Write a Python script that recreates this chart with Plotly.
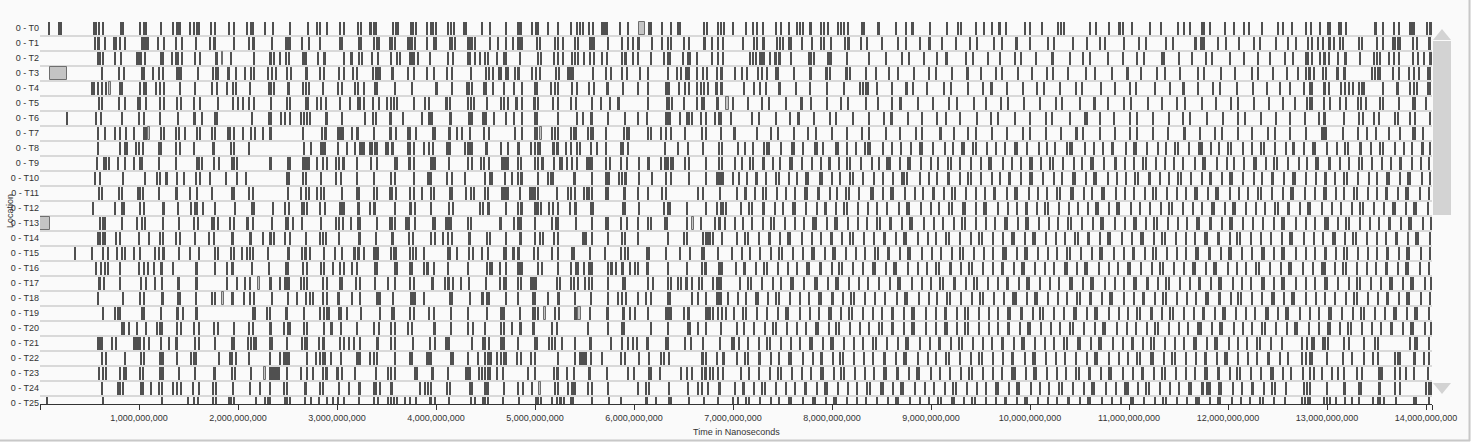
import plotly.graph_objects as go

# ---------------- data (times in milliseconds; tuples = (start, duration)) ----------------
row_labels = [f"0 - T{i}" for i in range(26)]
x_tick_values = [0, 1e9, 2e9, 3e9, 4e9, 5e9, 6e9, 7e9, 8e9, 9e9, 10e9, 11e9, 12e9, 13e9, 14e9, 14.06e9]
x_tick_labels = ["", "1,000,000,000", "2,000,000,000", "3,000,000,000", "4,000,000,000",
                 "5,000,000,000", "6,000,000,000", "7,000,000,000", "8,000,000,000",
                 "9,000,000,000", "10,000,000,000", "11,000,000,000", "12,000,000,000",
                 "13,000,000,000", "14,000,000,000", ""]
THIN_MS = 12

t0 = [88, 189, 205, 538, 563, 589, 629, 811, 835, 1010, (1043, 33), 1219, 1336, 1381, 1397, 1414, 1515, 1555, 1583, 1603, 1724, 1764, (1899, 20), 1952, 2081, 2128, 2148, 2265, 2350, (2518, 15), 2700, 2788, 2828, 2889, 3023, 3070, 3205, 3242, (3330, 20), (3366, 40), 3562, 3586, 3606, 3740, 3764, 3788, 3899, 3949, 3966, 3990, 4118, 4151, 4178, (4275, 40), 4464, 4538, 4700, 4818, 4841, 4858, 4962, (5003, 40), 5121, 5232, 5363, 5414, 5447, 5481, 5542, 5585, 5676, 5693, (5710, 30), 5855, 5932, 6148, 6164, 6275, 6370, 6437, 6461, 6706, 6730, 6848, 6871, 6908, 6997, 7128, 7198, 7239, 7295, 7424, 7484, 7558, 7643, 7669, 7699, (7770, 30), 7885, 7911, 7956, 8053, 8090, 8113, (8148, 25), 8299, 8322, (8464, 20),
      8646, 8737, (8807, 20), 8989, 9161, 9272, 9302, 9454, 9534, 9615, (9676, 30), 9757, 9949, 9999, 10120, 10282, 10312, 10342, 10605, 10666, 10797, (10888, 30), 10938, 11029, 11211, 11322, 11494, 11554, 11615, (11726, 40), 11817, 11969, 12059, 12160, 12211, 12342, 12504, 12554, 12645, 12784, 12834, 12921, 13006, 13022, (13113, 33), 13188, (13473, 33), 13557, 13668, 13719, 13830, 13854, 13874, 14006, (14039, 20)]
t1 = [552, (579, 25), 653, (740, 33), 798, 855, 1023, 1043, 1064, 1088, 1185, 1245, (1367, 15), 1427, 1569, (1717, 15), (1744, 30), (1946, 25), 2108, (2148, 20), (2340, 15), 2482, 2502, 2525, 2643, (2710, 15), (2828, 15), (3023, 15), (3050, 15), 3219, 3239, 3373, 3394, 3417, 3535, 3555, 3578, 3714, 3737, 3757, (3780, 15), (3899, 15), (3972, 35), 4141, 4161, 4184, 4320, 4343, 4363, 4386, 4538, 4616, 4700, 4777, 4818, 4845, 4868, 5013, 5043, 5194, (5222, 20), 5279, 5400, 5424, (5548, 60), 5737, 5878, 5932, 5989, (6040, 20), 6174, 6275, (6336, 15), (6370, 15), 6504, 6555, (6696, 35), 6780, (6841, 15), (6891, 15), 7097, 7204, 7232, (7289, 30), 7441, 7474, 7497, (7558, 40), 7693, 7794, 7885, 7911, 7986, 8123, (8158, 20), 8289, (8343, 25),
      8504, 8666, 8747, 8888, (8979, 20), 9110, 9242, 9393, 9464, 9635, 9716, (9848, 30), 9999, 10181, 10241, 10433, 10575, 10706, 10757, 10948, 11100, 11171, 11373, 11443, (11655, 30), (11716, 50), 11898, 11979, 12110, 12261, 12322, 12484, 12605, 12686, 12800, 12844, 12901, 12955, 13012, 13029, 13062, 13130, 13157, 13315, 13349, (13494, 25), 13561, 13662, 13686, 13709, 13729, 13864, 13905, (14022, 25)]
t2 = [579, 599, 629, 750, 811, 973, 997, (1020, 15), 1057, 1219, 1235, 1326, 1364, 1387, 1427, 1562, (1609, 15), (1768, 25), 1926, 2154, 2313, 2333, 2356, (2424, 15), 2482, 2508, (2649, 50), (2805, 15), (2861, 25), 3063, (3141, 20), 3215, 3249, 3350, 3407, (3545, 15), 3596, 3629, (3730, 15), 3757, 3774, 3808, (3932, 20), 4118, 4168, (4313, 15), (4336, 15), 4386, 4444, 4494, 4522, 4606, (4676, 40), 4841, 5030, 5060, 5188, (5232, 15), 5279, (5373, 15), 5400, 5424, 5491, 5548, 5592, 5669, (5720, 15), 5878, (5905, 20), 5989, 6030, 6168, 6299, (6336, 35), 6494, 6545, 6562, 6629, 6780, 6841, (6891, 20), 7171, 7198, 7222, 7272, 7289, 7305, 7373, (7416, 25), (7464, 20), 7582, 7760, 7784, 7810, (7946, 55), 8148, 8366,
      8535, 8706, 8777, 8928, 9060, (9141, 30), 9353, 9423, 9575, 9696, 9848, 9908, 10060, (10221, 20), 10403, 10534, 10605, 10787, 10938, 11080, 11150, (11322, 40), 11504, 11635, 11777, 11837, 12019, 12160, 12302, 12423, 12575, 12655, 12784, 12800, 12844, 12921, 12961, 12979, 13012, 13103, (13173, 25), 13325, 13473, 13501, 13527, 13618, 13668, 13719, 13864, 13911, 13978, (14032, 25)]
t3 = [619, 791, (841, 15), 1023, 1043, 1141, (1199, 15), (1235, 15), 1377, 1397, 1421, 1589, 1740, 1768, 1791, (1886, 35), 1977, (2060, 25), 2128, 2161, (2296, 20), 2340, 2374, (2492, 15), (2532, 15), (2680, 30), (2821, 15), (2861, 15), (3013, 20), 3070, 3158, (3199, 15), 3360, 3387, 3407, 3434, (3545, 30), 3714, (3770, 20), 3906, 3976, 4101, (4151, 25), 4346, 4498, 4528, 4572, 4629, 4656, 4700, 4724, 4790, (4818, 30), (4962, 15), 5003, 5043, 5205, 5239, 5330, 5350, (5366, 30), 5582, 5710, 5760, 5878, 5922, 6057, 6134, 6343, 6427, (6467, 15), (6511, 50), 6629, 6696, 6730, (6831, 15), (6875, 20), 7016, 7087, 7138, 7245, 7289, 7340, (7424, 45), 7608, (7770, 30), 7929, 7946, 7972, 8131, 8148, 8174, 8333, 8434,
      8575, 8666, 8827, 8979, 9040, 9211, (9353, 30), 9504, 9646, 9716, 9878, 10019, 10171, 10231, 10383, 10565, 10656, 10827, (10969, 30), 11120, 11282, 11363, 11514, 11696, 11756, 11928, 12070, 12241, 12302, 12453, 12595, 12706, 12784, 12810, 12827, 12867, 12951, 12989, (13090, 35), (13157, 35), 13450, 13484, 13507, 13534, 13662, 13719, 13820, 13870, 13921, 14012, 14039]
t4 = [518, 545, 579, 619, 664, 805, (828, 15), 1000, 1043, 1064, 1169, 1202, 1245, 1414, (1562, 15), (1730, 15), 1785, 1879, 1942, (1973, 15), (2121, 15), 2306, 2333, 2363, (2502, 20), 2649, 2677, 2717, (2845, 25), 3007, 3047, 3174, 3205, 3265, (3376, 35), 3578, (3747, 25), (3993, 25), 4154, 4303, 4330, 4363, (4477, 35), 4572, 4683, 4784, 4861, 4992, 5010, 5154, 5194, (5222, 25), 5373, 5414, (5532, 25), 5592, (5720, 25), (5878, 25), 6033, (6134, 15), 6320, 6336, 6353, 6451, (6504, 25), (6545, 25), 6629, (6673, 15), 6706, 6740, (6821, 25), (6868, 30), 7103, 7204, 7265, 7323, (7451, 30), (7626, 20), 7777, 7946, 8120, 8282, 8309, 8333, 8356, 8451,
      8605, (8747, 20), 8817, 8959, 9130, 9201, 9373, 9524, (9595, 30), 9767, 9928, 10070, 10140, 10302, 10464, 10524, 10716, 10858, 11009, 11070, 11262, 11413, (11534, 30), 11696, 11847, 11918, 12090, 12251, 12393, 12524, 12625, 12766, (12820, 33), (12961, 25), 13012, 13140, 13181, 13214, 13258, 13315, 13349, 13372, 13561, (13693, 33), 13830, 13870, 13905, (14012, 33)]
t5 = [593, (619, 15), (791, 20), 855, (983, 33), 1064, (1202, 15), 1245, 1377, 1421, (1555, 15), 1606, 1791, 1949, 1990, (2047, 15), (2104, 20), 2161, (2323, 25), 2492, (2525, 15), 2684, 2700, 2795, (2828, 25), 2879, (3017, 25), 3131, 3205, (3232, 15), 3272, 3360, 3417, 3502, 3545, 3568, 3596, 3774, (3881, 20), (3916, 25), (4094, 25), (4134, 20), 4313, 4353, 4380, (4505, 15), 4656, 4683, 4727, (4801, 25), (4861, 20), (4979, 35), (5027, 15), 5178, 5232, 5363, 5407, 5568, 5659, (5744, 25), (5838, 20), 6134, (6326, 40), 6383, 6504, 6629, 6679, 6706, (6831, 25), 6999,
      7151, 7292, 7363, 7525, (7676, 30), 7787, 7949, 8090, 8161, 8343, 8464, 8605, (8686, 20), 8868, 9019, 9181, 9262, 9433, 9555, 9706, 9777, 9938, 10100, 10262, 10322, 10504, (10635, 30), 10787, 10948, 11019, 11191, 11332, 11484, 11565, 11736, 11878, 12029, 12100, 12261, 12413, 12554, 12676, 12794, 12820, 12844, 12961, 13022, 13130, 13191, 13305, 13339, 13386, 13534, 13557, 13723, 13864, 13888, 13999]
t6 = [(270, 15), (563, 15), 606, 828, (993, 15), 1050, (1202, 25), (1387, 20), (1548, 25), 1629, (1757, 40), 2134, 2306, 2333, 2431, 2474, (2525, 15), 2636, 2659, (2694, 15), (2727, 15), (2879, 30), (3047, 15), 3275, 3356, 3384, (3528, 30), 3663, 3858, (3916, 50), 4134, 4151, (4320, 50), (4461, 50), 4578, 4700, 4784, 4861, 4996, 5010, 5222, 5414, 5484, (5558, 25), 5727, (5905, 15), (6033, 15), 6124, 6320, 6343, 6363, 6461, 6528, 6555, 6578, 6673, 6720, 6814, 6855, 6875, (6976, 15),
      7191, 7262, 7424, 7575, (7646, 30), 7817, 7979, 8040, 8211, 8373, 8524, (8595, 20), 8767, 8908, 9060, 9141, 9292, 9464, 9605, 9676, 9848, 9999, 10161, 10221, 10403, (10544, 40), 10706, 10847, 11009, 11080, 11241, 11403, 11544, 11615, 11787, 11948, 12100, 12171, 12332, 12484, 12625, 12777, 12911, 12961, 12979, 13163, 13315, 13359, 13473, 13524, 13678, 13709, 13837, 13888, 14032]
t7 = [579, (649, 15), 750, 798, 862, 942, 1043, 1064, (1219, 15), 1245, 1367, (1401, 15), 1461, 1583, 1616, 1730, (1764, 15), 1892, 1919, 1952, 2043, 2128, 2168, 2245, (2313, 15), 2333, (2649, 20), (2845, 15), (2871, 25), 3007, 3023, 3040, (3057, 15), 3148, (3192, 25), 3366, (3528, 15), 3545, (3589, 15), 3707, 3737, 3791, 3966, 3982, (4128, 20), 4202, 4262, 4336, 4477, 4532, 4790, 4861, 4992, 5013, 5171, 5194, 5222, 5356, (5383, 40), 5535, 5558, 5582, (5710, 20), 5898, 5922, 5946, 6134, 6164, (6269, 15), 6320, (6370, 15), (6504, 25), (6679, 15), (6720, 15), 6875, (7009, 20),
      7232, 7383, 7454, 7615, 7757, (7828, 20), 7999, 8151, 8302, 8373, 8545, 8686, 8838, 8908, (9080, 30), 9231, 9373, 9444, 9615, 9767, 9928, 9999, 10161, 10312, (10464, 20), 10534, 10706, 10858, 11009, 11080, 11241, 11393, (11544, 30), 11716, 11868, 11938, 12100, 12241, 12403, 12474, 12625, 12787, 12945, 12968, 12989, 13157, 13305, 13400, 13494, 13618, 13729, 13864, 13888, 13965]
t8 = [579, 798, 855, 872, 963, 997, (1037, 15), (1192, 40), 1371, 1414, 1548, (1740, 25), (1926, 15), 1959, 2104, 2659, 2734, 2835, 2855, 2875, 3003, 3098, 3174, 3225, 3249, 3272, 3333, 3353, 3376, 3401, (3488, 20), 3512, (3555, 20), (3714, 15), 3737, (3770, 15), 3871, 3926, 3966, (4101, 55), 4285, 4313, 4336, 4363, (4498, 25), 4656, 4727, (4818, 30), 4952, (4996, 15), (5023, 35), (5178, 20), (5219, 20), 5306, 5363, 5414, 5447, (5558, 20), 5619, 5710, (5855, 30), (5888, 15), 5939, 6309, 6437, 6538, (6686, 25), 6858, 6881,
      7046, 7112, (7190, 25), 7310, 7335, 7360, 7480, 7590, 7615, 7702, (7820, 35), 7905, 8030, 8055, 8150, 8240, 8330, 8355, 8380, 8510, (8600, 20), 8690, 8790, 8880, 8905, 9010, 9140, 9220, (9300, 40), 9420, 9445, 9560, 9650, 9740, 9840, 9865, 9960, 10090, (10160, 25), 10250, 10370, 10395, 10420, 10550, 10640, 10730, (10820, 30), 10960, 11040, 11065, 11180, 11290, 11370, 11460, 11485, 11600, (11700, 45), 11820, 11900, 11990, 12020, 12150, 12240, 12330, 12355, 12470, 12580, (12650, 25), 12760, 12850, 12875, 12990, 13100, 13180, 13205, (13320, 30), 13440, 13530, 13555, 13680, 13770, 13850, (13950, 25), 14030]
t9 = [(573, 15), 639, 664, 687, (785, 15), (855, 15), 942, (1003, 15), 1027, 1192, (1367, 20), 1579, 1603, 1636, 1750, 1798, 1936, 1959, 1980, (2313, 30), (2498, 35), 2649, 2669, 2690, 2710, 2795, 2851, 2896, 2987, (3020, 15), (3047, 30), (3189, 25), 3343, 3394, 3578, 3603, (3714, 35), 3774, (3942, 55), 4128, 4320, 4363, 4454, (4481, 15), (4532, 15), 4666, 4683, 4700, 4724, (4818, 15), (4848, 25), 4992, (5030, 15), (5057, 30), 5188, 5245, 5272, (5313, 15), 5373, 5414, 5518, 5542, 5562, 5575, (5710, 15), 5754, 5865, 5922, 6050, (6134, 25), 6269, 6309, (6333, 20), 6366, 6386, 6511, 6555, 6720, 6858, 6881,
      7010, 7090, 7170, 7195, (7290, 30), 7400, 7470, 7570, 7595, 7690, 7790, 7880, (7960, 25), 8070, 8150, 8175, 8290, 8400, 8470, (8550, 45), 8680, 8760, 8785, 8890, 8990, 9070, 9170, 9195, (9280, 25), 9400, 9500, 9580, 9605, 9720, 9810, 9900, (9990, 35), 10110, 10200, 10225, 10330, 10440, 10520, 10610, 10635, 10740, (10850, 30), 10950, 11040, 11140, 11165, 11270, 11360, 11450, (11530, 25), 11660, 11740, 11765, 11880, 11980, 12060, 12160, (12250, 40), 12380, 12460, 12485, 12600, 12710, 12790, 12880, 12905, (13010, 30), 13130, 13220, 13320, 13345, 13450, 13550, 13640, (13730, 25), 13850, 13940, 14020]
t10 = [(552, 15), 599, (831, 20), 1053, 1179, 1209, (1259, 35), (1377, 15), 1454, 1573, 1613, (1710, 15), (1872, 20), 1987, 2074, 2492, 2508, 2649, 2684, 2835, 2980, 3040, 3199, 3366, 3545, 3578, 3770, (3906, 50), 4101, 4161, 4285, 4494, 4538, 4565, (4683, 25), 4767, 4818, (4851, 25), 5027, 5131, 5161, 5181, (5383, 30), 5568, (5710, 45), 5845, 5871, (5898, 35), 6047, 6174, 6320, 6370, 6552, (6720, 15), 6838, 6858, 6875, 6898, 6999,
       7060, 7140, (7230, 20), 7330, 7430, 7455, 7560, 7640, 7730, 7755, (7870, 35), 7990, 8080, 8180, 8205, 8310, 8420, (8500, 25), 8610, 8700, 8725, 8750, 8880, 8970, 9060, (9160, 30), 9290, 9370, 9395, 9500, 9610, 9690, (9780, 25), 9900, 9990, 10015, 10130, 10240, 10320, (10420, 40), 10560, 10640, 10665, 10780, 10870, 10960, 11060, 11085, (11190, 30), 11310, 11400, 11490, 11515, 11620, 11730, (11810, 25), 11930, 12010, 12035, 12150, 12260, 12340, (12430, 35), 12560, 12650, 12675, 12780, 12880, (12970, 25), 13080, 13170, 13195, 13310, 13420, 13500, (13600, 40), 13730, 13810, 13835, 13950, 14030]
t11 = [589, 619, 791, 828, (983, 15), 1007, 1033, 1192, (1367, 25), (1508, 15), (1573, 25), 1730, 1932, 1959, 2101, 2151, (2502, 15), 2636, (2684, 15), 2710, 2795, 2835, 2868, (3047, 15), (3189, 40), 3373, 3401, 3535, 3555, (3589, 15), 3737, (3774, 15), 3858, 3949, 3972, (4134, 35), 4296, 4353, 4376, 4494, (4515, 25), 4666, 4683, 4700, 4717, (4835, 25), 4942, 4962, (4986, 20), 5030, 5212, 5323, 5356, 5400, 5491, 5518, 5542, 5568, (5703, 40), (5888, 30), (6033, 15), 6134, (6275, 15), (6316, 20), 6639, 6689, 6865,
       7030, (7110, 30), 7220, 7300, 7325, 7440, 7530, 7620, 7720, 7745, (7850, 25), 7970, 8050, 8140, 8165, 8270, (8380, 40), 8510, 8590, 8615, 8730, 8830, 8910, (9010, 25), 9130, 9210, 9235, 9350, 9450, 9540, (9630, 30), 9760, 9840, 9865, 9980, 10080, 10170, 10270, 10295, (10400, 45), 10540, 10620, 10720, 10745, 10860, 10950, (11040, 25), 11160, 11240, 11265, 11380, 11480, 11570, (11660, 35), 11790, 11870, 11895, 12010, 12110, 12200, 12300, 12325, (12430, 25), 12550, 12630, 12655, 12770, 12870, (12960, 40), 13090, 13170, 13270, 13295, 13410, 13500, (13590, 25), 13710, 13790, 13815, 13930, 14020]
t12 = [528, 750, (825, 15), 848, 1003, (1047, 15), (1239, 20), (1387, 20), (1522, 15), (1555, 40), 1639, 1760, 1966, 2134, (2158, 15), 2346, (2467, 15), (2505, 20), 2643, 2666, 2687, 2828, (2868, 25), 3023, 3043, 3063, (3205, 25), 3326, (3366, 25), 3578, (3730, 25), 3780, 3942, (4128, 15), 4168, 4437, 4471, (4512, 30), 4700, 4818, (4851, 25), 4992, 5013, 5030, 5053, 5138, 5181, 5222, (5340, 25), (5390, 30), 5558, 5582, (5878, 40), 6047, 6299, (6336, 35), 6535, 6720, 6838, 6875, 6898, 6922,
       7080, 7160, 7185, (7290, 35), 7420, 7500, 7600, 7625, 7730, 7840, (7920, 25), 8040, 8120, 8145, 8260, 8360, 8450, (8540, 30), 8670, 8750, 8775, 8890, 8990, 9080, 9180, 9205, (9310, 40), 9450, 9530, 9555, 9670, 9770, 9860, (9950, 25), 10070, 10150, 10175, 10290, 10390, 10480, 10580, (10660, 35), 10790, 10870, 10895, 11010, 11110, (11200, 25), 11320, 11400, 11425, 11540, 11640, 11730, (11830, 40), 11960, 12040, 12065, 12180, 12280, 12370, 12470, 12495, (12600, 30), 12720, 12800, 12825, 12940, 13040, (13130, 25), 13250, 13330, 13355, 13470, 13570, (13660, 40), 13790, 13870, 13895, 14010]
t13 = [603, 629, (649, 15), (825, 15), 973, (1023, 15), 1057, (1239, 15), 1397, 1548, 1589, 1730, 1757, 1788, 1912, 1952, (2088, 20), 2148, 2340, (2475, 35), 2548, 2643, (2835, 15), 2980, 3013, 3057, 3141, 3205, 3232, (3394, 20), 3535, 3555, 3578, (3690, 45), 3780, 3966, 3982, 4094, 4118, 4134, 4151, 4313, 4353, 4639, 4656, (4784, 15), 4818, 4835, 4851, 4992, 5171, (5198, 40), (5407, 15), 5575, 5710, 5737, 5865, 5922, 6033, (6134, 15), 6168, 6309, 6330, 6528, 6673, 6814, (6848, 30), 6915,
       7010, 7100, (7180, 25), 7300, 7380, 7405, 7520, 7620, 7710, (7800, 45), 7940, 8020, 8045, 8160, 8260, 8350, 8450, 8475, (8580, 30), 8700, 8780, 8805, 8920, 9020, (9110, 25), 9230, 9310, 9335, 9450, 9550, 9640, (9740, 35), 9870, 9950, 9975, 10090, 10190, 10280, 10380, 10405, (10510, 25), 10630, 10710, 10735, 10850, 10950, (11040, 40), 11170, 11250, 11275, 11390, 11490, 11580, 11680, 11705, (11810, 30), 11930, 12010, 12035, 12150, 12250, (12340, 25), 12460, 12540, 12565, 12680, 12780, 12870, (12970, 45), 13110, 13190, 13215, 13330, 13430, 13520, (13620, 25), 13740, 13820, 13845, 13960, 14040]
t14 = [579, 603, 629, (653, 15), 758, (805, 15), (997, 15), 1094, (1209, 15), (1242, 15), 1367, 1414, 1562, 1704, 1757, (1932, 30), (2118, 20), 2245, 2313, 2333, 2356, 2474, 2525, (2677, 15), 2828, 2851, (2886, 15), 3013, 3215, 3232, 3384, (3545, 30), (3724, 15), 3764, 3942, 3982, 4067, (4118, 15), 4161, (4330, 20), 4512, 4538, 4700, (4841, 30), 4992, 5047, 5077, 5188, (5232, 15), (5474, 50), (5575, 15), (5727, 25), 5878, 5905, 6033, (6336, 15), 6504, 6528, 6696, 6720, 6740, 6764, 6797, (6888, 15),
       7040, 7120, 7145, 7260, (7350, 30), 7470, 7550, 7575, 7690, 7790, 7880, (7980, 25), 8100, 8180, 8205, 8320, 8420, (8510, 40), 8640, 8720, 8745, 8860, 8960, 9050, 9150, 9175, (9280, 25), 9400, 9480, 9505, 9620, 9720, (9810, 35), 9940, 10020, 10045, 10160, 10260, 10350, 10450, 10475, (10580, 25), 10700, 10780, 10805, 10920, 11020, (11110, 45), 11250, 11330, 11355, 11470, 11570, 11660, 11760, 11785, (11890, 30), 12010, 12090, 12115, 12230, 12330, (12420, 25), 12540, 12620, 12645, 12760, 12860, 12950, (13050, 40), 13180, 13260, 13285, 13400, 13500, 13590, (13690, 25), 13810, 13890, 13915, 14030]
t15 = [350, 518, 629, 684, (771, 20), 821, 851, 946, (1010, 15), 1154, (1195, 20), (1229, 30), 1397, 1515, 1599, 1764, 1788, 1926, (1952, 20), 2033, 2088, 2118, 2148, (2290, 25), (2492, 30), 2643, (2669, 25), (2720, 15), 2861, 2972, 3047, (3164, 25), (3205, 25), 3265, 3366, 3384, 3407, 3545, 3568, 3589, (3730, 15), (3764, 15), 3788, 3871, 4118, 4141, 4209, 4326, 4370, (4464, 15), 4515, 4683, (4700, 20), (4774, 20), (4818, 30), 4986, 5020, 5164, 5232, 5366, 5390, 5548, 5699, (5855, 25), 5905, 5932, 6124, 6148, (6320, 15), 6461, 6562, (6679, 15), 6706, (6841, 15), 6982,
       7090, 7170, (7260, 25), 7380, 7460, 7485, 7600, 7700, (7790, 40), 7920, 8000, 8025, 8140, 8240, 8330, 8430, 8455, (8560, 30), 8680, 8760, 8785, 8900, 9000, (9090, 25), 9210, 9290, 9315, 9430, 9530, 9620, (9720, 45), 9860, 9940, 9965, 10080, 10180, 10270, 10370, 10395, (10500, 25), 10620, 10700, 10725, 10840, 10940, (11030, 35), 11160, 11240, 11265, 11380, 11480, 11570, 11670, 11695, (11800, 25), 11920, 12000, 12025, 12140, 12240, (12330, 40), 12460, 12540, 12565, 12680, 12780, 12870, (12970, 25), 13090, 13170, 13195, 13310, 13410, 13500, (13600, 30), 13720, 13800, 13825, 13940, 14030]
t16 = [559, 606, (649, 15), 684, (798, 15), 997, (1043, 15), 1084, 1151, (1209, 30), 1336, (1562, 30), 1764, (1886, 15), (1932, 30), (2128, 25), 2306, (2475, 40), 2649, (2694, 15), 2838, 2868, (2952, 15), (3023, 15), (3070, 15), 3148, 3199, 3376, 3401, 3578, 3603, (3730, 40), (3865, 25), (3906, 20), 3972, 4111, 4320, 4505, 4538, 4565, 4639, 4700, 4818, 4841, 4861, 5020, 5063, (5222, 25), (5356, 15), (5407, 35), 5491, 5542, (5558, 25), 5737, (5760, 25), (5808, 20), (5871, 25), 5956, 6006, 6030, (6124, 25), 6343, 6528, (6679, 20), (6713, 20), (6848, 50),
       7020, (7100, 35), 7230, 7310, 7335, 7450, 7550, 7640, 7740, 7765, (7870, 25), 7990, 8070, 8095, 8210, 8310, (8400, 45), 8540, 8620, 8645, 8760, 8860, 8950, 9050, 9075, (9180, 30), 9300, 9380, 9405, 9520, 9620, (9710, 25), 9830, 9910, 9935, 10050, 10150, 10240, (10340, 40), 10470, 10550, 10575, 10690, 10790, 10880, 10980, 11005, (11110, 25), 11230, 11310, 11335, 11450, 11550, (11640, 35), 11770, 11850, 11875, 11990, 12090, 12180, 12280, 12305, (12410, 25), 12530, 12610, 12635, 12750, 12850, (12940, 45), 13080, 13160, 13185, 13300, 13400, 13490, (13590, 25), 13710, 13790, 13815, 13930, 14020]
t17 = [(593, 20), 646, 805, (1017, 15), 1064, 1154, 1225, (1387, 30), (1569, 25), (1886, 15), 1987, 2063, 2111, 2313, 2333, 2424, 2467, 2492, 2508, 2636, 2659, 2694, (2851, 15), (2896, 15), 3023, 3047, 3182, 3232, (3376, 20), 3512, 3578, 3730, (3770, 15), (3959, 20), 4083, (4118, 20), 4168, 4252, 4330, (4494, 25), 4639, (4676, 40), 4818, 4858, (4952, 65), 5212, 5245, 5356, 5390, 5424, 5501, 5542, 5568, (5737, 15), (5878, 45), (6134, 15), 6191, 6336, 6370, 6437, 6471, (6518, 30), 6585, 6656, (6679, 15), (6797, 15), 6831, 6855, 6875,
       7070, 7150, 7175, (7280, 25), 7400, 7480, 7580, 7605, 7710, (7820, 40), 7950, 8030, 8055, 8170, 8270, 8360, (8460, 25), 8580, 8660, 8685, 8800, 8900, 8990, 9090, 9115, (9220, 35), 9350, 9430, 9455, 9570, 9670, (9760, 25), 9880, 9960, 9985, 10100, 10200, 10290, (10390, 45), 10530, 10610, 10635, 10750, 10850, 10940, 11040, 11065, (11170, 30), 11290, 11370, 11395, 11510, 11610, (11700, 25), 11820, 11900, 11925, 12040, 12140, 12230, (12330, 40), 12460, 12540, 12565, 12680, 12780, 12870, 12970, 12995, (13100, 25), 13220, 13300, 13325, 13440, 13540, (13630, 35), 13760, 13840, 13865, 13980, 14040]
t18 = [579, (835, 15), (1007, 15), (1043, 15), (1219, 30), (1387, 40), 1573, 1734, (1764, 15), (1932, 30), 2053, (2118, 15), 2154, 2340, 2502, 2586, 2677, 2720, 2754, 2851, 2896, (3007, 20), (3141, 25), 3225, 3394, 3417, 3434, 3562, 3747, 3764, 3780, 3871, (4128, 40), (4336, 20), (4454, 35), (4505, 40), 4700, 4818, 4979, 4992, 5128, 5222, 5239, (5390, 25), (5558, 15), 5727, 5828, 5871, 5912, 6033, (6114, 15), 6164, 6343, 6363, (6578, 15), 6646, (6720, 15), 6838, 6855, 6875, 6949,
       7050, 7130, (7220, 40), 7350, 7430, 7455, 7570, 7670, 7760, 7860, 7885, (7990, 25), 8110, 8190, 8215, 8330, 8430, (8520, 30), 8650, 8730, 8755, 8870, 8970, 9060, 9160, 9185, (9290, 25), 9410, 9490, 9515, 9630, 9730, (9820, 45), 9960, 10040, 10065, 10180, 10280, 10370, 10470, 10495, (10600, 25), 10720, 10800, 10825, 10940, 11040, (11130, 35), 11260, 11340, 11365, 11480, 11580, 11670, 11770, 11795, (11900, 25), 12020, 12100, 12125, 12240, 12340, (12430, 40), 12560, 12640, 12665, 12780, 12880, 12970, (13070, 25), 13190, 13270, 13295, 13410, 13510, (13600, 30), 13720, 13800, 13825, 13940, 14030]
t19 = [629, 754, 778, 801, 1023, 1043, (1212, 25), (1377, 25), (1437, 15), (1573, 20), 2144, 2168, 2286, 2313, (2475, 25), 2666, 2828, 2861, 2889, 2912, (3013, 15), (3040, 15), 3091, 3242, 3427, (3545, 40), 3730, 3770, (3922, 20), (3972, 15), 4144, 4313, 4505, (4656, 20), 4683, 4841, 4979, 4996, 5020, 5198, 5239, 5400, 5417, 5548, (5720, 25), (5888, 20), 5956, 6006, 6141, 6320, 6336, 6353, 6370, 6504, (6545, 20), (6720, 15), 6740, 6764, 6797, 6841, (6875, 25), 6922,
       7000, 7100, 7125, 7240, (7330, 25), 7450, 7530, 7555, 7670, 7770, 7860, (7960, 40), 8090, 8170, 8195, 8310, 8410, 8500, (8600, 25), 8720, 8800, 8825, 8940, 9040, (9130, 35), 9260, 9340, 9365, 9480, 9580, 9670, 9770, 9795, (9900, 25), 10020, 10100, 10125, 10240, 10340, (10430, 45), 10570, 10650, 10675, 10790, 10890, 10980, 11080, 11105, (11210, 30), 11330, 11410, 11435, 11550, 11650, (11740, 25), 11860, 11940, 11965, 12080, 12180, 12270, (12370, 40), 12500, 12580, 12605, 12720, 12820, 12910, 13010, 13035, (13140, 25), 13260, 13340, 13365, 13480, 13580, (13670, 35), 13800, 13880, 13905, 14020]
t20 = [821, 841, 892, 973, 1064, 1179, 1202, 1232, 1377, 1421, 1555, 1599, 1757, 1791, 1959, 2104, 2151, (2313, 30), 2457, (2502, 15), 2525, 2659, 2687, 2861, (2939, 20), 3040, 3199, 3366, 3417, 3545, 3578, 3714, 3754, (3976, 20), 4144, 4313, 4370, 4494, 4656, (4676, 25), 4760, (4841, 25), (4969, 30), 5164, 5212, 5535, 5737, (5871, 40), (6168, 15), 6343, 6538, 6562, (6639, 15), 6720, 6875,
       7030, 7110, (7200, 25), 7320, 7400, 7425, 7540, 7640, 7730, (7830, 35), 7960, 8040, 8065, 8180, 8280, 8370, 8470, 8495, (8600, 25), 8720, 8800, 8825, 8940, 9040, (9130, 40), 9260, 9340, 9365, 9480, 9580, 9670, (9770, 25), 9890, 9970, 9995, 10110, 10210, 10300, 10400, 10425, (10530, 30), 10650, 10730, 10755, 10870, 10970, (11060, 25), 11180, 11260, 11285, 11400, 11500, 11590, (11690, 45), 11830, 11910, 11935, 12050, 12150, 12240, 12340, 12365, (12470, 25), 12590, 12670, 12695, 12810, 12910, (13000, 35), 13130, 13210, 13235, 13350, 13450, 13540, (13640, 25), 13760, 13840, 13865, 13980, 14040]
t21 = [579, 596, 619, 724, 758, 942, 963, 983, 1007, (1050, 15), 1091, 1219, 1296, (1367, 25), 1562, 1599, 1760, 1932, 1959, 2091, 2128, 2154, 2179, 2313, 2340, 2492, 2643, 2669, 2694, (2811, 15), (2845, 35), (3020, 25), 3070, 3121, 3164, 3232, (3401, 20), (3545, 15), 3578, (3764, 15), (3932, 15), 3982, 4094, 4111, 4128, 4360, 4471, 4494, 4528, (4656, 20), 4683, 4825, 4992, 5010, 5138, 5164, 5194, 5272, 5400, (5548, 30), 5760, 5878, 5932, 5989, (6023, 15), (6124, 30), 6320, 6343, (6511, 15), (6572, 15), 6696, 6865, 6982, 7006,
       7060, (7140, 25), 7260, 7340, 7365, 7480, 7580, 7670, (7770, 40), 7900, 7980, 8005, 8120, 8220, 8310, 8410, 8435, (8540, 25), 8660, 8740, 8765, 8880, 8980, (9070, 30), 9200, 9280, 9305, 9420, 9520, 9610, (9710, 25), 9830, 9910, 9935, 10050, 10150, 10240, 10340, 10365, (10470, 45), 10610, 10690, 10715, 10830, 10930, (11020, 25), 11140, 11220, 11245, 11360, 11460, 11550, (11650, 35), 11780, 11860, 11885, 12000, 12100, 12190, 12290, 12315, (12420, 25), 12540, 12743, 12794, 12844, 12867, 12955, 12979, 13002, 13163, 13214, 13365, 13484, 13507, 13830, 13888, 13905, 14022]
t22 = [(623, 15), 657, 851, (1017, 15), 1043, 1202, 1219, 1235, 1374, 1522, 1548, 1573, 1798, 1912, 1932, 1973, 2108, (2313, 20), 2424, 2457, (2475, 50), 2687, (2778, 15), 2828, 2851, 2871, 2939, 3037, 3192, 3209, 3232, 3326, 3373, 3401, 3578, 3730, 3757, 3899, 3922, (3942, 15), (4144, 35), 4313, 4421, 4494, 4515, (4545, 20), 4606, 4656, 4683, 4700, 4811, 4851, 4952, 4992, 5229, (5400, 15), 5447, 5474, 5491, 5508, 5558, 5669, 5865, (5898, 25), 6047, 6148, (6269, 15), 6302, (6343, 25), 6679, 6696, 6720, 6831, 6891, 6908,
       7030, 7120, 7145, (7250, 35), 7380, 7460, 7560, 7585, 7700, 7800, (7880, 25), 8000, 8080, 8105, 8220, 8320, 8410, (8510, 40), 8640, 8720, 8745, 8860, 8960, 9050, 9150, 9175, (9280, 25), 9400, 9480, 9505, 9620, 9720, (9810, 30), 9940, 10020, 10045, 10160, 10260, 10350, (10450, 25), 10570, 10650, 10675, 10790, 10890, 10980, 11080, 11105, (11210, 45), 11350, 11430, 11455, 11570, 11670, (11760, 25), 11880, 11960, 11985, 12100, 12200, 12290, (12390, 35), 12520, 12600, 12743, 12787, 12820, 12844, 12996, 13157, 13248, 13365, 13460, 13507, 13686, 13709, 13736, 13870, 13888, 13978, 14022]
t23 = [593, 629, 660, 805, 841, 866, (1000, 15), (1033, 20), 1202, 1219, 1235, 1394, 1562, (1750, 25), 1939, 1966, 2124, 2313, 2333, 2350, 2366, 2391, 2407, (2492, 15), 2636, 2694, (2754, 15), 2851, 2879, 2896, (2997, 20), 3047, 3174, 3384, 3512, 3545, 3578, 3780, 3805, (3949, 30), 4111, 4293, 4313, 4336, 4427, 4461, 4494, 4522, 4545, 4606, 4676, 4919, 4992, (5181, 25), (5219, 20), 5316, 5390, (5535, 35), 5717, 5932, 5999, 6148, 6168, 6259, 6471, 6528, (6578, 15), 6679, (6706, 35), 6764, 6797, 6848, 6898,
       7080, 7160, (7250, 25), 7370, 7450, 7475, 7590, 7690, 7780, (7880, 40), 8010, 8090, 8115, 8230, 8330, 8420, 8520, 8545, (8650, 30), 8770, 8850, 8875, 8990, 9090, (9180, 25), 9300, 9380, 9405, 9520, 9620, 9710, (9810, 45), 9950, 10030, 10055, 10170, 10270, 10360, 10460, 10485, (10590, 25), 10710, 10790, 10815, 10930, 11030, (11120, 35), 11250, 11330, 11355, 11470, 11570, 11660, 11760, 11785, (11890, 25), 12010, 12090, 12115, 12230, 12330, (12420, 40), 12550, 12630, 12753, 12820, 12867, 12945, 13046, 13103, 13170, 13299, 13349, (13517, 43), 13686, 13736, 13797, 13870, (14006, 27)]
t24 = [619, 785, 805, 831, 1017, 1033, (1121, 15), (1192, 20), (1225, 15), 1336, 1374, 1421, 1542, 1596, 1740, (1775, 15), (1942, 20), 2121, 2212, 2313, 2457, (2492, 15), 2669, 2684, 2828, 2851, 3020, (3114, 15), 3215, 3232, (3366, 40), 3434, (3545, 20), 3831, 3881, 3916, 3942, (4101, 15), 4134, (4336, 35), (4487, 45), 4683, 4818, (4875, 15), 4962, 5194, 5229, 5323, 5366, 5383, 5400, 5535, 5568, (5737, 15), 6033, 6114, 6148, (6343, 25), 6545, (6646, 15), 6679, 6740, (6848, 35),
       7010, (7090, 30), 7210, 7290, 7315, 7430, 7530, 7620, (7720, 25), 7840, 7920, 7945, 8060, 8160, 8250, 8350, 8375, (8480, 40), 8610, 8690, 8715, 8830, 8930, (9020, 25), 9140, 9220, 9245, 9360, 9460, 9550, (9650, 35), 9780, 9860, 9885, 10000, 10100, 10190, 10290, 10315, (10420, 25), 10540, 10620, 10645, 10760, 10860, (10950, 45), 11090, 11170, 11195, 11310, 11410, 11500, 11600, 11625, (11730, 25), (11780, 45), 11900, 11925, 12040, 12140, (12230, 30), 12360, 12440, 12465, 12580, 12766, 12794, 12827, 12996, (13157, 33), (13315, 33), (13517, 23), 13686, 13729, 13999, 14022, 14046]
t25 = [64, 629, 1225, 1488, 1555, 1589, 1740, 1775, 1899, 1929, 1959, 2179, 2265, 2296, 2313, (2467, 35), 2518, 2669, 2734, 2811, 2889, 2956, 3007, 3063, 3215, (3360, 25), 3407, 3512, 3545, 3568, 3596, 3679, 3730, 3791, (3926, 35), 3982, 4128, 4353, 4386, 4471, 4494, 4522, 4676, 4835, 5003, 5030, 5053, 5164, 5215, (5239, 30), 5289, (5356, 40), 5575, 5744, 5865, (6114, 30), 6215, 6350, 6370, 6555, (6696, 25), 6848, 6999,
       7050, 7130, 7155, (7260, 25), 7380, 7460, 7560, 7585, 7700, (7800, 35), 7930, 8010, 8035, 8150, 8250, 8340, (8440, 25), 8560, 8640, 8665, 8780, 8880, 8970, 9070, 9095, (9200, 40), 9330, 9410, 9435, 9550, 9650, (9740, 25), 9860, 9940, 9965, 10080, 10180, 10270, (10370, 30), 10500, 10580, 10605, 10720, 10820, 10910, 11010, 11035, (11140, 25), 11260, 11340, 11365, 11480, 11580, (11670, 45), 11810, 11890, 11915, 12030, 12130, 12220, 12320, 12345, (12450, 25), 12570, 12743, 12777, 12800, 12827, 12968, 12996, 13022, 13090, 13181, 13248, 13315, 13460, 13507, 13534, 13568, (13686, 23), 13870, 13898, 14022]

# idle / waiting blocks (light boxes)
idle_row = [0, 2, 3, 4, 5, 7, 7, 13, 13, 17, 18, 19, 19, 23, 24]
idle_start = [6050, 1835, 104, 700, 6932, 1091, 5047, 0, 6585, 2202, 1838, 5087, 5434, 2259, 5037]
idle_dur = [60, 15, 166, 20, 25, 20, 20, 105, 25, 20, 20, 20, 30, 20, 25]

rows = [t0, t1, t2, t3, t4, t5, t6, t7, t8, t9, t10, t11, t12, t13, t14, t15,
        t16, t17, t18, t19, t20, t21, t22, t23, t24, t25]

# ---------------- build traces ----------------
MS = 1e6
ys, bases, lens = [], [], []
for i, row in enumerate(rows):
    for b in row:
        s, d = b if isinstance(b, tuple) else (b, THIN_MS)
        ys.append(i)
        bases.append(s * MS)
        lens.append(d * MS)

FONT = "Liberation Sans, Arial, sans-serif"
fig = go.Figure()
fig.add_trace(go.Bar(
    orientation="h", y=ys, x=lens, base=bases, width=0.86,
    marker=dict(color="#505050", line=dict(width=0)), hoverinfo="skip", showlegend=False))
fig.add_trace(go.Bar(
    orientation="h", y=idle_row, x=[d * MS for d in idle_dur], base=[s * MS for s in idle_start],
    width=0.86, marker=dict(color="#c4c4c4", line=dict(color="#6e6e6e", width=1)),
    hoverinfo="skip", showlegend=False))

# pixel -> paper helpers (plot area spans x 40..1432, y 20..404 of the 1471x442 page)
W_PLOT, H_PLOT, L, T = 1392.0, 384.0, 40.0, 20.0
def px(x):
    return (x - L) / W_PLOT
def py(y):
    return 1 - (y - T) / H_PLOT

shapes = [
    dict(type="rect", xref="paper", yref="paper", x0=px(1433), x1=px(1451), y0=py(215), y1=py(41),
         fillcolor="#d3d3d3", line=dict(width=0), layer="above"),
    dict(type="path", xref="paper", yref="paper",
         path=f"M {px(1433)} {py(40)} L {px(1451)} {py(40)} L {px(1442)} {py(29)} Z",
         fillcolor="#d3d3d3", line=dict(width=0)),
    dict(type="path", xref="paper", yref="paper",
         path=f"M {px(1433)} {py(383)} L {px(1451)} {py(383)} L {px(1442)} {py(394)} Z",
         fillcolor="#d3d3d3", line=dict(width=0)),
    dict(type="line", xref="paper", yref="paper", x0=px(0), x1=px(1470), y0=py(440.5), y1=py(440.5),
         line=dict(color="#c8c8c8", width=2)),
    dict(type="line", xref="paper", yref="paper", x0=px(1469.5), x1=px(1469.5), y0=py(0), y1=py(441),
         line=dict(color="#c8c8c8", width=2)),
]

fig.update_layout(
    width=1471, height=442,
    margin=dict(l=40, r=39, t=20, b=38, autoexpand=False),
    paper_bgcolor="#fafafa", plot_bgcolor="#fafafa",
    barmode="overlay", bargap=0,
    font=dict(family=FONT, size=9, color="#333333"),
    shapes=shapes,
    annotations=[
        dict(text="Location", xref="paper", yref="paper", x=px(10), y=py(211), textangle=-90,
             showarrow=False, font=dict(size=9, color="#333333"), xanchor="center", yanchor="middle"),
        dict(text="Time in Nanoseconds", xref="paper", yref="paper", x=px(736), y=py(432),
             showarrow=False, font=dict(size=9, color="#333333"), xanchor="center", yanchor="middle"),
    ],
)
fig.update_xaxes(range=[0, 14.06e9], tickvals=x_tick_values, ticktext=x_tick_labels, automargin=False,
                 showgrid=False, zeroline=False, showline=True, linecolor="#333333", linewidth=1,
                 ticks="outside", ticklen=5, tickcolor="#333333", tickfont=dict(size=9, color="#333333"))
fig.update_yaxes(range=[25.05, -0.55], tickvals=list(range(26)), ticktext=row_labels, automargin=False,
                 showgrid=False, zeroline=False, showline=False, ticks="", ticklen=0,
                 tickfont=dict(size=9, color="#333333"),
                 minor=dict(tickvals=[k - 0.5 for k in range(27)], showgrid=True,
                            gridcolor="#d9d9d9", gridwidth=2, ticks=""))

fig.write_html("out.html", config={"displayModeBar": False},
               post_script="document.body.style.margin='0';document.body.style.background='#fafafa';")
